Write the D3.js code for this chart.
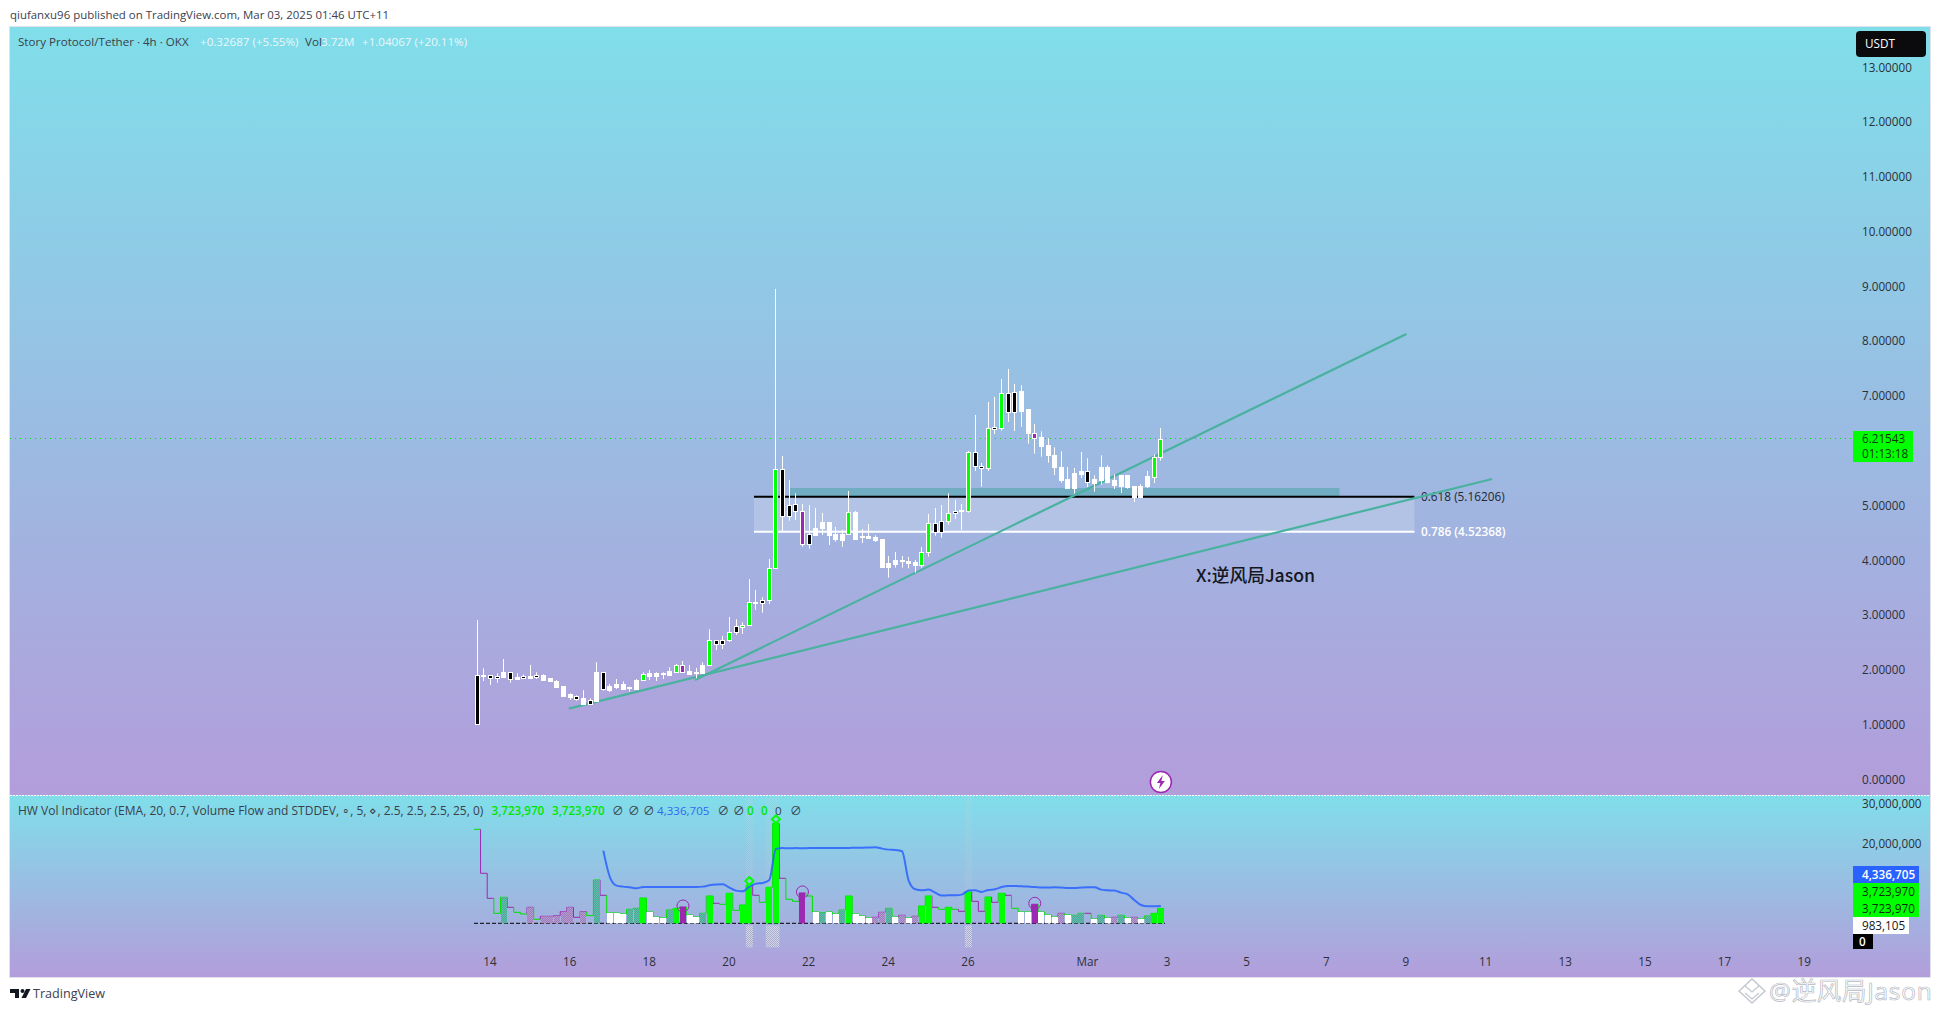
<!DOCTYPE html>
<html><head><meta charset="utf-8">
<script src="https://cdn.jsdelivr.net/npm/d3@7/dist/d3.min.js"></script>
<style>html,body{margin:0;padding:0;background:#fff}svg{display:block}text{font-family:"Open Sans","Noto Sans CJK SC",sans-serif}</style>
</head><body><div id="c"></div>
<script>
// ---- data ----
const candleKinds = "kwkkwkwkwkwwwwwkwkwkwwwwwgwwwwgpwwwgkkgkggwkggkkkpkwwwwwgwwwwwwwwwwggkkgkwgkkgkgkkwwpwwwwwwwkwwwwwwwwwgg";
const opens  = [1.896,1.902,1.896,1.877,1.956,1.956,1.853,1.877,1.883,1.896,1.902,1.835,1.792,1.701,1.555,1.518,1.470,1.439,1.956,1.950,
 1.701,1.743,1.743,1.677,1.810,1.804,1.926,1.926,1.926,1.975,1.962,2.084,1.975,1.956,2.084,2.078,2.541,2.541,2.535,2.796,
 2.778,2.808,3.234,3.271,3.265,3.855,5.662,5.005,5.023,4.895,4.476,4.585,4.682,4.682,4.463,4.476,4.476,4.877,4.433,4.427,
 4.409,4.372,3.934,3.989,3.989,3.971,3.952,3.904,4.147,4.676,4.713,4.713,4.895,4.914,4.895,5.972,5.717,5.680,6.429,6.411,
 7.043,7.062,7.074,6.745,6.319,6.246,6.100,5.917,5.704,5.479,5.589,5.631,5.625,5.479,5.704,5.704,5.449,5.552,5.552,5.351,
 5.357,5.522,5.509,5.875];
const closes = [1.007,1.890,1.841,1.841,1.871,1.829,1.817,1.841,1.853,1.859,1.817,1.780,1.689,1.524,1.506,1.457,1.360,1.366,1.433,1.640,
 1.634,1.683,1.652,1.664,1.652,1.920,1.871,1.871,1.914,1.908,2.084,1.962,1.926,1.944,1.944,2.541,2.462,2.462,2.687,2.681,
 2.814,3.234,3.222,3.210,3.855,5.662,4.798,4.798,4.895,4.293,4.293,4.463,4.573,4.451,4.372,4.372,4.877,4.390,4.415,4.396,
 4.354,3.867,3.867,3.916,3.971,3.928,3.897,4.141,4.676,4.512,4.512,4.859,4.859,4.902,5.972,5.711,5.680,6.411,6.392,7.043,
 6.703,6.703,6.709,6.313,6.221,6.088,5.911,5.692,5.473,5.321,5.321,5.576,5.418,5.412,5.467,5.424,5.363,5.357,5.339,5.157,
 5.157,5.339,5.881,6.209];
const highs  = [2.912,2.029,1.896,1.938,2.200,1.956,1.938,1.920,2.090,1.956,1.920,1.835,1.817,1.701,1.573,1.537,1.628,1.482,2.139,1.950,
 1.743,1.835,1.792,1.695,1.835,1.956,1.999,1.956,1.956,2.048,2.109,2.163,2.090,2.036,2.139,2.741,2.541,2.620,2.967,2.924,
 2.869,3.660,3.459,3.326,4.025,8.954,5.905,5.467,5.224,5.029,5.011,4.956,4.865,4.695,4.609,4.555,5.267,4.902,4.573,4.664,
 4.457,4.390,4.080,4.153,4.080,4.062,4.007,4.244,4.847,4.956,5.011,5.224,5.102,5.029,5.997,6.654,5.778,6.891,6.983,7.311,
 7.494,7.220,7.196,6.745,6.489,6.355,6.227,6.063,5.990,5.704,5.686,5.978,5.862,5.552,5.917,5.735,5.570,5.552,5.552,5.351,
 5.388,5.631,5.935,6.416];
const lows   = [1.007,1.798,1.725,1.768,1.853,1.768,1.817,1.841,1.853,1.835,1.817,1.780,1.689,1.524,1.451,1.439,1.360,1.366,1.421,1.622,
 1.597,1.652,1.640,1.604,1.652,1.804,1.817,1.798,1.835,1.890,1.950,1.950,1.914,1.847,1.932,2.072,2.364,2.382,2.510,2.638,
 2.656,2.808,3.094,3.046,3.204,3.855,4.524,4.725,4.737,4.250,4.214,4.451,4.463,4.281,4.342,4.250,4.476,4.372,4.317,4.396,
 4.336,3.867,3.685,3.867,3.867,3.855,3.776,3.867,4.068,4.451,4.415,4.652,4.756,4.555,4.871,5.632,5.346,5.632,6.307,6.368,
 6.526,6.362,6.441,6.130,5.948,5.893,5.783,5.558,5.418,5.321,5.217,5.503,5.339,5.254,5.382,5.406,5.303,5.230,5.309,5.065,
 5.157,5.321,5.412,5.820];
// volume in millions; kinds: g green, p purple, w white, a stippled teal, b stippled purple, m green line only, n purple line only
const volumeKinds = "mnnmanmmbmbbbbbnbmanwwwaagwwwagpwwagnmgmggnmggnmmpmwawwagwwwbbawbwbggnmgmngnngngnmwwpwwwbwaanwawbawbwagg";
const volumes = [23.5,12.5,6.25,2.5,6.5,4.0,2.75,2.33,4.0,1.0,1.75,1.75,1.92,2.92,4.0,1.5,2.92,1.92,10.83,7.0,
 2.58,2.58,2.33,3.5,3.75,6.33,2.83,1.58,1.33,3.33,3.75,4.08,2.08,1.58,2.5,6.83,5.0,4.75,7.5,3.25,
 4.58,9.58,7.0,5.25,9.0,25.0,11.25,6.0,5.5,7.58,6.83,2.83,2.67,2.83,2.33,3.33,6.83,2.33,1.83,1.33,
 1.5,2.75,3.75,1.58,2.0,1.33,1.75,4.33,6.83,4.0,3.5,4.0,3.5,3.0,7.83,5.5,3.0,6.58,5.25,7.5,
 7.0,3.75,2.83,2.83,4.75,2.83,2.08,1.58,2.5,2.08,2.0,2.5,2.5,1.08,2.0,1.33,1.5,2.0,1.33,1.5,
 1.08,1.83,2.5,3.72];
// blue line starts at candle 19
const thresholdStart = 19;
const thresholds = [18.17,11.5,9.42,9.17,9.0,8.75,9.08,9.08,9.08,9.1,9.08,9.1,9.08,9.08,9.08,9.17,9.5,9.67,9.75,8.92,
 8.17,8.0,9.17,9.92,10.08,10.83,18.58,18.83,18.75,18.8,18.75,18.8,18.8,18.85,18.85,18.85,18.85,18.85,18.9,18.9,
 18.95,19.0,18.67,18.42,18.33,18.0,10.67,8.5,8.25,8.42,7.67,6.92,7.0,7.0,7.17,8.17,8.25,7.83,8.33,8.5,
 9.08,9.33,9.33,9.25,9.17,9.08,8.92,8.92,9.0,8.92,8.83,8.83,8.92,9.0,9.0,8.42,8.25,8.17,7.67,7.25,
 5.83,4.58,4.25,4.25,4.34];
const circleBars = [31,49,84];
const diamondBars = [41,45];
const bandBars = [[41,41],[44,45],[74,74]];
const priceTicks = [0,1,2,3,4,5,7,8,9,10,11,12,13];
const volumeTicks = [20000000,30000000];
const timeTickDates = ["2025-02-14","2025-02-16","2025-02-18","2025-02-20","2025-02-22","2025-02-24","2025-02-26","2025-03-01","2025-03-03","2025-03-05","2025-03-07","2025-03-09","2025-03-11","2025-03-13","2025-03-15","2025-03-17","2025-03-19"];
const timeTickLabels = ["14","16","18","20","22","24","26","Mar","3","5","7","9","11","13","15","17","19"];
// drawings in bar-index / price units
const trendA = [[32.8,1.816],[140.0,8.133]];
const trendB = [[13.8,1.293],[152.9,5.486]];
const fibBars = [41.7,141.2];
const fibLevels = [5.16206,4.52368];
const fibLabels = ["0.618 (5.16206)","0.786 (4.52368)"];
const zoneBars = [47.1,129.9];
const zonePrices = [5.321,5.162];
const lastPrice = 6.21543;
const annotationAt = [108.0,3.61];
const boltAt = [103,0];

// ---- layout ----
const W=1940,H=1012,L=10,R=1930,T=27,D=795,B=977;
const svg=d3.select("#c").append("svg").attr("width",W).attr("height",H);
const defs=svg.append("defs");
const grad=defs.append("linearGradient").attr("id","bg").attr("x1",0).attr("x2",0).attr("y1",0).attr("y2",1);
grad.append("stop").attr("offset",0).attr("stop-color","#80deea");
grad.append("stop").attr("offset",1).attr("stop-color","#b39ddb");
function stipple(id,c1,c2){const p=defs.append("pattern").attr("id",id).attr("width",2).attr("height",2).attr("patternUnits","userSpaceOnUse");
 p.append("rect").attr("width",2).attr("height",2).attr("fill",c1);
 p.append("rect").attr("width",1).attr("height",1).attr("fill",c2);
 p.append("rect").attr("x",1).attr("y",1).attr("width",1).attr("height",1).attr("fill",c2);}
stipple("st","#3fae9c","#6fb5a8");
stipple("sp","#9a7cc0","#b79bc8");
stipple("band","#f2f3f8","#a9adbb");

const t0=Date.UTC(2025,1,13,16);
const barTime=i=>new Date(t0+i*4*3600e3);
const x=d3.scaleUtc().domain([new Date("2025-02-14"),new Date("2025-03-03")]).range([490.5,1167.5]);
const xb=i=>x(barTime(i));
const y=d3.scaleLinear().domain([0,13]).range([779.5,67.3]);
const v=d3.scaleLinear().domain([0,30]).range([923.3,803.3]);
const vTick=d3.scaleLinear().domain([0,30000000]).range([923.3,803.3]);
const crisp=p=>Math.round(p-0.5)+0.5;

// panes
svg.append("rect").attr("x",L).attr("y",T).attr("width",R-L).attr("height",D-T).attr("fill","url(#bg)");
svg.append("rect").attr("x",L).attr("y",D).attr("width",R-L).attr("height",B-D).attr("fill","url(#bg)");
svg.append("rect").attr("x",L-.5).attr("y",T-.5).attr("width",R-L+1).attr("height",B-T+1).attr("fill","none").attr("stroke","#e0e3eb");
svg.append("line").attr("x1",L).attr("x2",R).attr("y1",D+.5).attr("y2",D+.5).attr("stroke","#fff").attr("stroke-dasharray","2 1");

// last price line
svg.append("line").attr("x1",L).attr("x2",1853).attr("y1",crisp(y(lastPrice))).attr("y2",crisp(y(lastPrice))).attr("stroke","#00e000").attr("stroke-dasharray","1 4");

// fib + zone
svg.append("rect").attr("x",xb(zoneBars[0])).attr("width",xb(zoneBars[1])-xb(zoneBars[0])).attr("y",y(zonePrices[0])).attr("height",y(zonePrices[1])-y(zonePrices[0])).attr("fill","#70acc2");
svg.append("rect").attr("x",xb(fibBars[0])).attr("width",xb(fibBars[1])-xb(fibBars[0])).attr("y",y(fibLevels[0])).attr("height",y(fibLevels[1])-y(fibLevels[0])).attr("fill","#b3c3e5");
const fibColors=["#000","#fff"];
fibLevels.forEach((f,k)=>{
 svg.append("line").attr("x1",xb(fibBars[0])).attr("x2",xb(fibBars[1])).attr("y1",y(f)).attr("y2",y(f)).attr("stroke",fibColors[k]).attr("stroke-width",2);
 svg.append("text").attr("x",1421).attr("y",y(f)+4).attr("font-size",11.8).attr("font-weight",k?600:400).attr("fill",k?"#fff":"#23272f").text(fibLabels[k]);
});
// trend lines
[trendA,trendB].forEach(t=>{
 svg.append("path").attr("d",d3.line().x(d=>xb(d[0])).y(d=>y(d[1]))(t)).attr("stroke","#49b29f").attr("stroke-width",2.2).attr("fill","none");
});
// candles
const candleFill={k:"#000",w:"#fff",g:"#00ff00",p:"#9c27b0"};
const cg=svg.append("g");
d3.range(opens.length).forEach(i=>{
 const cx=crisp(xb(i)),k=candleKinds[i];
 cg.append("line").attr("x1",cx).attr("x2",cx).attr("y1",y(highs[i])).attr("y2",y(lows[i])).attr("stroke","#fff");
 const t=y(Math.max(opens[i],closes[i])),b=y(Math.min(opens[i],closes[i]));
 cg.append("rect").attr("x",cx-2).attr("width",4).attr("y",crisp(t)).attr("height",Math.max(1,Math.round(b-t))).attr("fill",candleFill[k]).attr("stroke","#fff").attr("stroke-width",1);
});
// annotation
svg.append("text").attr("x",1196).attr("y",y(annotationAt[1])).attr("font-size",17.7).attr("font-weight",500).attr("fill","#131722").attr("style",'font-family:"Noto Sans CJK SC"').text("X:逆风局Jason");
// bolt
const bx=xb(boltAt[0]),by=782;
svg.append("circle").attr("cx",bx).attr("cy",by).attr("r",10.5).attr("fill","#fff").attr("stroke","#9c27b0").attr("stroke-width",1.5);
svg.append("path").attr("d",`M${bx+2},${by-7}L${bx-4},${by+1}H${bx-.5}L${bx-2},${by+7}L${bx+4},${by-1}H${bx+.5}Z`).attr("fill","#9c27b0");

// ---- indicator ----
bandBars.forEach(b=>{
 const x0=xb(b[0])-3.5,x1=xb(b[1])+3.5;
 svg.append("rect").attr("x",x0).attr("width",x1-x0).attr("y",D+2).attr("height",v(0)-D-2).attr("fill","url(#band)").attr("opacity",.13);
 svg.append("rect").attr("x",x0).attr("width",x1-x0).attr("y",v(0)+2).attr("height",22).attr("fill","url(#band)").attr("opacity",.6);
});
// zero line
svg.append("line").attr("x1",474).attr("x2",xb(103)+4).attr("y1",v(0)).attr("y2",v(0)).attr("stroke","#000").attr("stroke-dasharray","4 2");
// step outline
const lineColor=k=>("npb".includes(k)?"#9c27b0":"#00e000");
volumes.forEach((d,i)=>{
 const cx=xb(i),prev=i?volumes[i-1]:d,k=volumeKinds[i];
 svg.append("path").attr("d",`M${cx-3.3},${v(prev)}V${v(d)}H${cx+3.3}`).attr("fill","none").attr("stroke",lineColor(k)).attr("stroke-width",1);
});
// bars
const barFill={g:"#00ff00",p:"#9c27b0",w:"#fff",a:"url(#st)",b:"url(#sp)"};
volumes.forEach((d,i)=>{
 const k=volumeKinds[i]; if(!barFill[k])return;
 svg.append("rect").attr("x",Math.round(xb(i)-3)).attr("width",6).attr("y",v(d)).attr("height",v(0)-v(d)).attr("fill",barFill[k]);
});
// threshold
svg.append("path").attr("d",d3.line().x((d,i)=>xb(i+thresholdStart)).y(d=>v(d)).curve(d3.curveMonotoneX)(thresholds)).attr("fill","none").attr("stroke","#2962ff").attr("stroke-width",2).attr("opacity",.85);
circleBars.forEach(i=>svg.append("circle").attr("cx",xb(i)).attr("cy",v(volumes[i])-1).attr("r",6).attr("fill","none").attr("stroke","#9c27b0").attr("stroke-width",1));
diamondBars.forEach(i=>{const cx=xb(i),cy=v(volumes[i])-4;svg.append("path").attr("d",`M${cx},${cy-4}L${cx+4},${cy}L${cx},${cy+4}L${cx-4},${cy}Z`).attr("fill","none").attr("stroke","#00ff00").attr("stroke-width",2);});

// ---- axes ----
const axisFill="#2c3038";
function styleAxis(g){g.select(".domain").remove();g.selectAll(".tick line").remove();g.selectAll("text").attr("fill",axisFill).attr("font-size",11.7);}
svg.append("g").attr("transform","translate(1862,0)")
 .call(d3.axisRight(y).tickValues(priceTicks).tickFormat(d3.format(".5f")).tickSize(0).tickPadding(0)).call(styleAxis);
svg.append("g").attr("transform","translate(1862,0)")
 .call(d3.axisRight(vTick).tickValues(volumeTicks).tickFormat(d3.format(",")).tickSize(0).tickPadding(0)).call(styleAxis);
const tickDates=timeTickDates.map(d=>new Date(d));
svg.append("g").attr("transform","translate(-1,958)")
 .call(d3.axisBottom(x).tickValues(tickDates).tickFormat((d,i)=>timeTickLabels[i]).tickSize(0).tickPadding(0)).call(styleAxis);

// ---- right labels ----
function tag(x0,x1,y0,y1,fill,text,color,weight,rx,tx){
 svg.append("rect").attr("x",x0).attr("y",y0).attr("width",x1-x0).attr("height",y1-y0).attr("fill",fill).attr("rx",rx||0);
 if(text)svg.append("text").attr("x",tx||x0+9).attr("y",(y0+y1)/2+4).attr("font-size",11.7).attr("font-weight",weight||400).attr("fill",color).text(text);
}
tag(1856,1926,31,57,"#0b0b0e","USDT","#fff",400,4,1865);
tag(1853,1913,431,462,"#00ff00","","#000");
svg.append("text").attr("x",1862).attr("y",443).attr("font-size",11.7).attr("fill","#0c3a0c").text("6.21543");
svg.append("text").attr("x",1862).attr("y",458).attr("font-size",11.7).attr("fill","#0c3a0c").text("01:13:18");
tag(1853,1919,866,883,"#2962ff","4,336,705","#fff",600);
tag(1853,1919,883,900,"#00ff00","3,723,970","#0c2a0c");
tag(1853,1919,900,917,"#00ff00","3,723,970","#0c2a0c");
tag(1853,1909,917,934,"#fff","983,105","#131722");
tag(1853,1873,934,949,"#000","0","#fff",600,0,1859);

// ---- headers ----
function run(yy,parts){parts.forEach(p=>svg.append("text").attr("x",p[0]).attr("y",yy).attr("font-size",p[3]||11.6).attr("font-weight",p[4]||400).attr("fill",p[2]).text(p[1]));}
svg.append("text").attr("x",10).attr("y",19).attr("font-size",11.45).attr("fill","#3c4150").text("qiufanxu96 published on TradingView.com, Mar 03, 2025 01:46 UTC+11");
const lg="#e9f7fb";
run(46,[[18,"Story Protocol/Tether · 4h · OKX","#3a3f4a"],[200,"+0.32687 (+5.55%)",lg],[305,"Vol","#3a3f4a"],[321,"3.72M",lg],[362,"+1.04067 (+20.11%)",lg]]);
const gr="#00e600",dk="#3a3f4a";
svg.append("text").attr("x",18).attr("y",815).attr("font-size",12).attr("fill",dk).text("HW Vol Indicator (EMA, 20, 0.7, Volume Flow and STDDEV, ∘, 5, ⋄, 2.5, 2.5, 2.5, 25, 0)");
run(815,[[491.5,"3,723,970",gr,11.6,600],[552,"3,723,970",gr,11.6,600],[612,"∅",dk],[628,"∅",dk],[643,"∅",dk],[657,"4,336,705","#2f6bf0"],
 [717.5,"∅",dk],[733,"∅",dk],[747,"0",gr,11.6,600],[761,"0",gr,11.6,600],[775,"0",dk],[790,"∅",dk]]);

// ---- footer ----
const fg="#131722";
svg.append("path").attr("d","M10,989H19V998H15V993H10Z").attr("fill",fg);
svg.append("circle").attr("cx",22.5).attr("cy",991).attr("r",2).attr("fill",fg);
svg.append("path").attr("d","M26,989H30.5L26,998H21.5Z").attr("fill",fg);
svg.append("text").attr("x",33).attr("y",998).attr("font-size",12.6).attr("fill","#3c4150").text("TradingView");
// watermark
const wmC="#c4c8d0";
svg.append("path").attr("d","M1739,991L1752,979L1765,991L1752,1003Z").attr("fill","none").attr("stroke",wmC).attr("stroke-width",1.5);
svg.append("path").attr("d","M1745,986L1752,992L1759,986").attr("fill","none").attr("stroke",wmC).attr("stroke-width",1.3);
svg.append("path").attr("d","M1745,993L1752,999L1759,993").attr("fill","none").attr("stroke",wmC).attr("stroke-width",1.3);
svg.append("text").attr("x",1769).attr("y",1000).attr("font-size",24.5).attr("letter-spacing",.7).attr("fill","#fff").attr("stroke","#b6bac4").attr("stroke-width",.7).text("@逆风局Jason");
</script></body></html>
